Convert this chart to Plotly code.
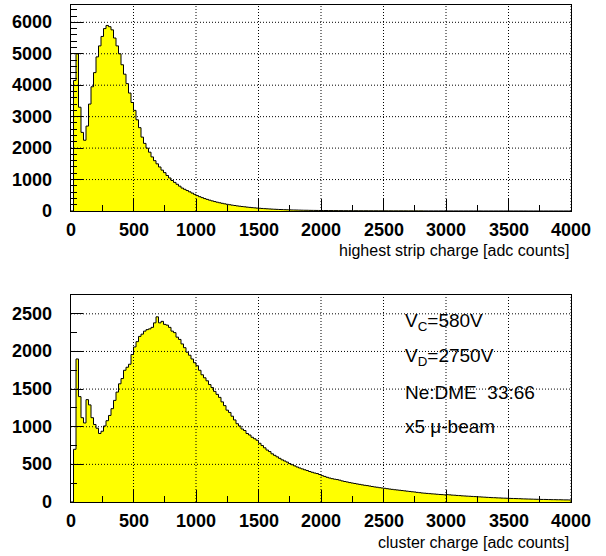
import plotly.graph_objects as go

# ---------------- data ----------------
bin_width = 20          # adc counts per bin
x_start = 0             # left edge of first bin

# highest strip charge histogram (200 bins of 20 adc, 0..4000)
strip_counts = [
    0, 4150, 5000, 3300, 2500, 2250, 2700, 3400, 3950, 4400,
    4900, 5250, 5550, 5800, 5900, 5860, 5760, 5500, 5250, 5000,
    4650, 4350, 4050, 3750, 3450, 3200, 2900, 2650, 2350, 2150,
    2000, 1870, 1720, 1600, 1500, 1400, 1300, 1220, 1130, 1050,
    970, 910, 850, 790, 730, 690, 650, 610, 570, 530,
    490, 455, 425, 395, 370, 345, 322, 300, 280, 262,
    245, 228, 213, 200, 187, 175, 163, 152, 142, 133,
    124, 115, 107, 100, 93, 87, 81, 75, 70, 65,
    60, 56, 52, 48, 45, 42, 39, 36, 34, 32,
    30, 28, 26, 24, 23, 21, 20, 19, 18, 17,
    16, 15, 15, 14, 14, 13, 13, 12, 12, 11,
    11, 11, 10, 10, 10, 9, 9, 9, 9, 8,
    8, 8, 8, 7, 7, 7, 7, 7, 6, 6,
    6, 6, 6, 6, 5, 5, 5, 5, 5, 5,
    5, 4, 4, 4, 4, 4, 4, 4, 4, 4,
    4, 3, 3, 3, 3, 3, 3, 3, 3, 3,
    3, 3, 3, 3, 2, 2, 2, 2, 2, 2,
    2, 2, 2, 2, 2, 2, 2, 2, 2, 2,
    2, 2, 1, 1, 1, 1, 1, 1, 1, 1,
    1, 1, 1, 1, 1, 1, 1, 1, 1, 1,
]

# cluster charge histogram (200 bins of 20 adc, 0..4000)
cluster_counts = [
    0, 700, 1900, 1400, 1120, 1050, 1360, 1290, 1120, 1030,
    980, 910, 940, 1010, 1080, 1150, 1240, 1350, 1460, 1570,
    1640, 1750, 1790, 1830, 1960, 2060, 2130, 2200, 2230, 2270,
    2290, 2300, 2320, 2380, 2460, 2380, 2400, 2360, 2350, 2320,
    2270, 2250, 2190, 2160, 2100, 2050, 1990, 1950, 1900, 1850,
    1810, 1750, 1690, 1650, 1610, 1560, 1520, 1470, 1430, 1390,
    1330, 1280, 1220, 1190, 1140, 1090, 1040, 1010, 970, 950,
    910, 890, 860, 840, 820, 780, 750, 720, 690, 670,
    640, 620, 600, 580, 560, 545, 530, 510, 495, 480,
    465, 452, 440, 428, 418, 405, 395, 385, 378, 365,
    350, 340, 328, 318, 310, 303, 298, 290, 280, 272,
    266, 258, 252, 246, 240, 234, 228, 222, 218, 212,
    206, 200, 196, 190, 186, 182, 177, 172, 168, 163,
    160, 156, 152, 148, 144, 140, 136, 133, 128, 124,
    120, 117, 114, 111, 108, 106, 103, 100, 98, 95,
    98, 95, 92, 90, 87, 85, 82, 80, 78, 76,
    74, 72, 70, 68, 66, 64, 62, 60, 58, 57,
    55, 54, 52, 51, 50, 48, 47, 46, 45, 44,
    42, 41, 40, 39, 38, 37, 36, 35, 34, 34,
    33, 32, 31, 31, 30, 30, 29, 28, 28, 27,
]

x_tick_vals = [0, 500, 1000, 1500, 2000, 2500, 3000, 3500, 4000]
top_y_ticks = [0, 1000, 2000, 3000, 4000, 5000, 6000]
bottom_y_ticks = [0, 500, 1000, 1500, 2000, 2500]

top_x_title = "highest strip charge [adc counts]"
bottom_x_title = "cluster charge [adc counts]"
info_lines = ["V<sub>C</sub>=580V", "V<sub>D</sub>=2750V",
              "Ne:DME\u00a0 33:66", "x5 \u03bc-beam"]

# ---------------- figure ----------------
def step_xy(counts):
    edges = [x_start + i * bin_width for i in range(len(counts) + 1)]
    ys = list(counts) + [counts[-1]]
    return edges, ys

fig = go.Figure()
for counts, xa, ya in [(strip_counts, "x", "y"), (cluster_counts, "x2", "y2")]:
    ex, ey = step_xy(counts)
    fig.add_trace(go.Scatter(
        x=ex, y=ey, xaxis=xa, yaxis=ya, mode="lines", line_shape="hv",
        line=dict(color="black", width=1), fill="tozeroy",
        fillcolor="#ffff00", showlegend=False, hoverinfo="skip"))

def xaxis_cfg(domain_anchor):
    return dict(range=[0, 4000], tickmode="array", tickvals=x_tick_vals,
                showticklabels=False,
                ticks="inside", ticklen=12, tickwidth=1, tickcolor="black",
                minor=dict(dtick=250, tick0=0, ticks="inside", ticklen=6,
                           tickcolor="black", tickwidth=1, showgrid=False),
                showline=True, mirror=True, linecolor="black", linewidth=1,
                showgrid=False, zeroline=False,
                layer="above traces", automargin=False, anchor=domain_anchor)

def yaxis_cfg(rng, ticks, minor_dtick, domain, anchor):
    return dict(range=rng, tickmode="array", tickvals=ticks,
                showticklabels=False,
                ticks="inside", ticklen=12, tickwidth=1, tickcolor="black",
                minor=dict(dtick=minor_dtick, tick0=0, ticks="inside",
                           ticklen=6, tickcolor="black", tickwidth=1,
                           showgrid=False),
                showline=True, mirror=True, linecolor="black", linewidth=1,
                showgrid=False, zeroline=False,
                layer="above traces", automargin=False, domain=domain,
                anchor=anchor)

fig.update_layout(
    width=606, height=556,
    margin=dict(l=71, r=35, t=5, b=54),
    paper_bgcolor="white", plot_bgcolor="white",
    xaxis=xaxis_cfg("y"),
    xaxis2=xaxis_cfg("y2"),
    yaxis=yaxis_cfg([0, 6550], top_y_ticks, 200, [0.5855, 1.0], "x"),
    yaxis2=yaxis_cfg([0, 2750], bottom_y_ticks, 250, [0.0, 0.4165], "x2"),
)

# dotted grid drawn above the filled histograms (as in the reference)
grid_line = dict(color="black", width=1, dash="1px,2px")
shapes = []
for xa, ya, yt in [("x", "y", top_y_ticks), ("x2", "y2", bottom_y_ticks)]:
    for xv in x_tick_vals[1:]:
        shapes.append(dict(type="line", xref=xa, yref=ya + " domain",
                           x0=xv, x1=xv, y0=0, y1=1, line=grid_line,
                           layer="above"))
    for yv in yt[1:]:
        shapes.append(dict(type="line", xref=xa + " domain", yref=ya,
                           x0=0, x1=1, y0=yv, y1=yv, line=grid_line,
                           layer="above"))
fig.update_layout(shapes=shapes)

# bold tick labels (ROOT style), placed at the axis tick values
label_font = dict(family="Arial", size=18, color="black", weight="bold")
annotations = []
for xa, ya, yt in [("x", "y", top_y_ticks), ("x2", "y2", bottom_y_ticks)]:
    for xv in x_tick_vals:
        annotations.append(dict(text="<b>%d</b>" % xv, xref=xa,
                                yref=ya + " domain", x=xv, y=-0.035,
                                xanchor="center", yanchor="top",
                                showarrow=False, font=label_font))
    for yv in yt:
        annotations.append(dict(text="<b>%d</b>" % yv, xref=xa + " domain",
                                yref=ya, x=-0.034, y=yv, xanchor="right",
                                yanchor="middle", showarrow=False,
                                font=label_font))

title_font = dict(family="Arial", size=16, color="black")
annotations += [
    dict(text=top_x_title, xref="x domain", yref="y domain", x=1.0,
         y=-0.194, xanchor="right", yanchor="middle", showarrow=False,
         font=title_font),
    dict(text=bottom_x_title, xref="x2 domain", yref="y2 domain", x=1.0,
         y=-0.198, xanchor="right", yanchor="middle", showarrow=False,
         font=title_font),
]
info_font = dict(family="Arial", size=19, color="black")
info_y = [0.870, 0.700, 0.531, 0.367]
for txt, yy in zip(info_lines, info_y):
    annotations.append(dict(text=txt, xref="x2 domain", yref="y2 domain",
                            x=0.664, y=yy, xanchor="left", yanchor="middle",
                            showarrow=False, font=info_font))
fig.update_layout(annotations=annotations)

fig.write_html("out.html")
